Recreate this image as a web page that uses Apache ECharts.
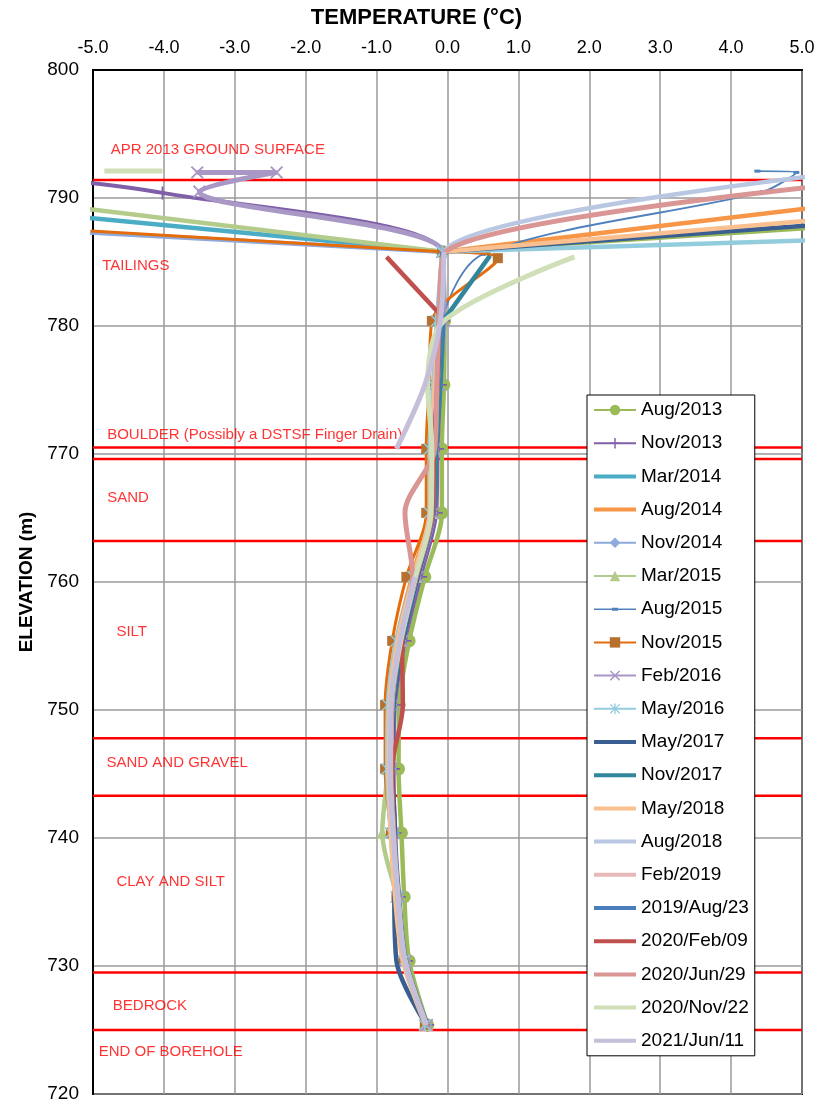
<!DOCTYPE html>
<html>
<head>
<meta charset="utf-8">
<script src="https://cdn.jsdelivr.net/npm/echarts@6/dist/echarts.min.js"></script>
<style>
html,body{margin:0;padding:0;background:#fff;}
#chart{width:837px;height:1104px;}
</style>
</head>
<body>
<div id="chart"></div>
<script>
// ---------- DATA (temperature °C, elevation m) ----------
const X_MIN = -5, X_MAX = 5, Y_MIN = 720, Y_MAX = 800;
const seriesNames = ['Aug/2013','Nov/2013','Mar/2014','Aug/2014','Nov/2014','Mar/2015','Aug/2015','Nov/2015','Feb/2016','May/2016','May/2017','Nov/2017','May/2018','Aug/2018','Feb/2019','2019/Aug/23','2020/Feb/09','2020/Jun/29','2020/Nov/22','2021/Jun/11'];

const aug2013 = [[8,788.7],[-0.07,785.8],[-0.04,780.4],[-0.05,775.4],[-0.08,770.4],[-0.08,765.4],[-0.32,760.4],[-0.54,755.4],[-0.68,750.4],[-0.69,745.4],[-0.65,740.4],[-0.61,735.4],[-0.54,730.4],[-0.28,725.4]];
const nov2013 = [[-6.5,792.0],[-4.02,790.4],[-0.08,785.8],[-0.06,780.4],[-0.1,775.4],[-0.14,770.4],[-0.16,765.4],[-0.38,760.4],[-0.6,755.4],[-0.74,750.4],[-0.76,745.4],[-0.74,740.4],[-0.68,735.4],[-0.58,730.4],[-0.28,725.4]];
const mar2014 = [[-8,790.0],[-0.08,785.8],[-0.08,780.4],[-0.13,775.4],[-0.18,770.4],[-0.2,765.4],[-0.42,760.4],[-0.65,755.4],[-0.78,750.4],[-0.8,745.4],[-0.77,740.4],[-0.7,735.4],[-0.6,730.4],[-0.3,725.4]];
const aug2014 = [[8,791.1],[-0.06,785.8],[-0.14,780.4],[-0.2,775.4],[-0.24,770.4],[-0.26,765.4],[-0.5,760.4],[-0.72,755.4],[-0.83,750.4],[-0.83,745.4],[-0.79,740.4],[-0.72,735.4],[-0.62,730.4],[-0.3,725.4]];
const nov2014 = [[-8,788.2],[-0.08,785.8],[-0.1,780.4],[-0.15,775.4],[-0.2,770.4],[-0.22,765.4],[-0.45,760.4],[-0.66,755.4],[-0.79,750.4],[-0.8,745.4],[-0.76,740.4],[-0.7,735.4],[-0.6,730.4],[-0.3,725.4]];
const mar2015 = [[-8,791.1],[-0.08,785.8],[-0.1,780.4],[-0.14,775.4],[-0.2,770.4],[-0.22,765.4],[-0.44,760.4],[-0.66,755.4],[-0.8,750.4],[-0.84,745.4],[-0.92,740.4],[-0.72,735.4],[-0.6,730.4],[-0.3,725.4]];
const aug2015 = [[4.37,792.1],[4.92,792.0],[4.45,790.5],[0.5,785.6],[-0.08,780.4],[-0.15,775.4],[-0.2,770.4],[-0.22,765.4],[-0.44,760.4],[-0.65,755.4],[-0.78,750.4],[-0.8,745.4],[-0.76,740.4],[-0.7,735.4],[-0.6,730.4],[-0.3,725.4]];
const nov2015 = [[-8,788.4],[-0.07,785.8],[0.71,785.3],[-0.22,780.4],[-0.26,775.4],[-0.3,770.4],[-0.3,765.4],[-0.58,760.4],[-0.78,755.4],[-0.88,750.4],[-0.88,745.4],[-0.8,740.4],[-0.72,735.4],[-0.62,730.4],[-0.32,725.4]];
const feb2016 = [[-3.53,792.0],[-2.41,792.0],[-3.5,790.5],[-0.07,785.8],[-0.05,780.4],[-0.12,775.4],[-0.18,770.4],[-0.2,765.4],[-0.42,760.4],[-0.64,755.4],[-0.77,750.4],[-0.79,745.4],[-0.76,740.4],[-0.69,735.4],[-0.59,730.4],[-0.29,725.4]];
const may2016 = [[8,787.2],[-0.07,785.8],[-0.15,780.4],[-0.2,775.4],[-0.25,770.4],[-0.25,765.4],[-0.48,760.4],[-0.72,755.4],[-0.84,750.4],[-0.85,745.4],[-0.8,740.4],[-0.72,735.4],[-0.62,730.4],[-0.32,725.4]];
const may2017 = [[8,789.0],[-0.07,785.8],[-0.08,780.4],[-0.12,775.4],[-0.17,770.4],[-0.2,765.4],[-0.42,760.4],[-0.63,755.4],[-0.76,750.4],[-0.78,745.4],[-0.74,740.4],[-0.75,735.4],[-0.72,730.4],[-0.3,725.4]];
const nov2017 = [[0.6,785.5],[-0.06,780.4],[-0.1,775.4],[-0.16,770.4],[-0.2,765.4],[-0.43,760.4],[-0.64,755.4],[-0.77,750.4],[-0.79,745.4],[-0.75,740.4],[-0.69,735.4],[-0.59,730.4],[-0.29,725.4]];
const may2018 = [[8,789.6],[-0.06,785.8],[-0.12,780.4],[-0.18,775.4],[-0.23,770.4],[-0.25,765.4],[-0.48,760.4],[-0.7,755.4],[-0.82,750.4],[-0.83,745.4],[-0.8,740.4],[-0.74,735.4],[-0.63,730.4],[-0.31,725.4]];
const aug2018 = [[5.6,792.0],[-0.05,785.8],[-0.1,780.4],[-0.14,775.4],[-0.19,770.4],[-0.21,765.4],[-0.44,760.4],[-0.66,755.4],[-0.79,750.4],[-0.8,745.4],[-0.76,740.4],[-0.7,735.4],[-0.6,730.4],[-0.3,725.4]];
const feb2019 = [[-0.06,785.8],[-0.12,780.4],[-0.16,775.4],[-0.2,770.4],[-0.24,765.4],[-0.44,760.4],[-0.66,755.4],[-0.78,750.4],[-0.79,745.4],[-0.76,740.4],[-0.7,735.4],[-0.6,730.4],[-0.3,725.4]];
const aug2019 = [[-0.07,785.8],[-0.09,780.4],[-0.14,775.4],[-0.19,770.4],[-0.21,765.4],[-0.44,760.4],[-0.66,755.4],[-0.79,750.4],[-0.8,745.4],[-0.76,740.4],[-0.7,735.4],[-0.6,730.4],[-0.3,725.4]];
const feb2020 = [[-0.86,785.4],[-0.12,781.0],[-0.14,775.4],[-0.19,770.4],[-0.21,765.4],[-0.44,760.4],[-0.64,755.4],[-0.63,750.4],[-0.78,745.4],[-0.76,740.4],[-0.7,735.4],[-0.6,730.4],[-0.3,725.4]];
const jun2020 = [[8,792.4],[-0.03,785.8],[-0.12,780.4],[-0.15,775.4],[-0.18,770.4],[-0.6,765.4],[-0.49,760.4],[-0.66,755.4],[-0.79,750.4],[-0.8,745.4],[-0.76,740.4],[-0.7,735.4],[-0.6,730.4],[-0.3,725.4]];
const nov2020 = [[-4.84,792.1],[-4.02,792.1],['-','-'],[1.79,785.4],[-0.05,780.4],[-0.28,775.4],[-0.22,770.4],[-0.23,765.4],[-0.45,760.4],[-0.66,755.4],[-0.8,750.4],[-0.81,745.4],[-0.77,740.4],[-0.7,735.4],[-0.6,730.4],[-0.3,725.4]];
const jun2021 = [[-0.05,785.8],[-0.1,780.4],[-0.32,775.4],[-0.72,770.4],['-','-'],[-0.46,760.4],[-0.67,755.4],[-0.8,750.4],[-0.81,745.4],[-0.77,740.4],[-0.7,735.4],[-0.6,730.4],[-0.3,725.4]];

const layerBoundaries = [791.4, 770.5, 769.6, 763.2, 747.8, 743.3, 729.5, 725.0];
const layerLabels = [
  ['APR 2013 GROUND SURFACE', -4.75, 793.8],
  ['TAILINGS', -4.87, 784.7],
  ['BOULDER (Possibly a DSTSF Finger Drain)', -4.8, 771.5],
  ['SAND', -4.8, 766.6],
  ['SILT', -4.67, 756.1],
  ['SAND AND GRAVEL', -4.81, 745.9],
  ['CLAY AND SILT', -4.67, 736.6],
  ['BEDROCK', -4.72, 726.9],
  ['END OF BOREHOLE', -4.92, 723.3]
];

// ---------- STYLES ----------
const PLUS = 'path://M4.3,0H5.7V4.3H10V5.7H5.7V10H4.3V5.7H0V4.3H4.3Z';
const CROSS = 'path://M1,0L5,4L9,0L10,1L6,5L10,9L9,10L5,6L1,10L0,9L4,5L0,1Z';
const STAR = 'path://M4.4,0H5.6V10H4.4Z M1,0.3L5,4.3L9,0.3L9.8,1.1L5.8,5L9.8,8.9L9,9.7L5,5.7L1,9.7L0.2,8.9L4.2,5L0.2,1.1Z';
const LINE_ICON = 'path://M0,0H42V0.01H0Z M0,4.5H42V8.5H0Z M0,12.99H42V13H0Z';
const THIN_ICON = 'path://M0,0H42V0.01H0Z M0,5.8H42V7.2H0Z M18,5H24V8H18Z M0,12.99H42V13H0Z';
// st: straight first segment (surface reading to first buried reading)
const styleList = [
  {d: aug2013, c: '#9BBB59', w: 4.5, s: 'circle', ss: 13, st: true},
  {d: nov2013, c: '#7F60A8', w: 4, s: PLUS, ss: 13},
  {d: mar2014, c: '#4BACC6', w: 4.5, st: true},
  {d: aug2014, c: '#F79646', w: 4.5, st: true},
  {d: nov2014, c: '#8EA9DB', w: 4.5, s: 'diamond', ss: 12, st: true},
  {d: mar2015, c: '#B3CB8B', w: 4.5, s: 'triangle', ss: 12, st: true},
  {d: aug2015, c: '#4F81BD', w: 1.8, s: 'rect', ss: [6,3], icon: THIN_ICON},
  {d: nov2015, c: '#E46C0A', w: 3, s: 'rect', ss: 10, sc: '#B7702E', st: true},
  {d: feb2016, c: '#A997C6', w: 5, s: CROSS, ss: 13},
  {d: may2016, c: '#93CDDD', w: 4.5, s: STAR, ss: 13, st: true},
  {d: may2017, c: '#3A5E91', w: 4.5, st: true},
  {d: nov2017, c: '#31859C', w: 4.5, st: true},
  {d: may2018, c: '#FAC090', w: 4.5, st: true},
  {d: aug2018, c: '#B9C7E2', w: 4.5},
  {d: feb2019, c: '#E6B9B8', w: 4.5},
  {d: aug2019, c: '#4A7EBB', w: 4.5},
  {d: feb2020, c: '#C0504D', w: 4.5, st: true},
  {d: jun2020, c: '#D99694', w: 5},
  {d: nov2020, c: '#D0DFB8', w: 5},
  {d: jun2021, c: '#C6BFD9', w: 5}
];

const FONT = "'Liberation Sans', Arial, sans-serif";

const series = [];
layerBoundaries.forEach(function (e) {
  series.push({
    type: 'line', silent: true, z: 1, symbol: 'none',
    data: [[X_MIN, e], [X_MAX, e]],
    lineStyle: {color: '#FF0000', width: 2.5}
  });
});
series.push({
  type: 'scatter', silent: true, z: 3, symbolSize: 0,
  itemStyle: {color: 'rgba(0,0,0,0)'},
  data: layerLabels.map(function (l) { return {name: l[0], value: [l[1], l[2]]}; }),
  label: {show: true, position: 'right', distance: 0, color: '#FF0000', fontSize: 15, fontFamily: FONT,
    formatter: '{b}'}
});
function lineSeries(name, data, st, smooth, z) {
  return {
    name: name, type: 'line', z: z,
    data: data, smooth: smooth, connectNulls: false, clip: true,
    symbol: st.s || 'none', symbolSize: st.ss || 0, showSymbol: !!st.s,
    lineStyle: {color: st.c, width: st.w},
    itemStyle: {color: st.sc || st.c, borderWidth: 0},
    emphasis: {disabled: true}
  };
}
styleList.forEach(function (st, i) {
  const z = 4 + i * 0.01;
  if (st.st) {
    series.push(lineSeries(seriesNames[i], st.d.slice(0, 2), st, false, z));
    series.push(lineSeries(seriesNames[i], st.d.slice(1), st, 0.3, z));
  } else {
    series.push(lineSeries(seriesNames[i], st.d, st, 0.3, z));
  }
});

const legendData = seriesNames.map(function (n, i) {
  const st = styleList[i];
  if (st.icon) return {name: n, icon: st.icon, itemStyle: {color: st.c}};
  if (!st.s) return {name: n, icon: LINE_ICON, itemStyle: {color: st.c}};
  return {name: n};
});

const chart = echarts.init(document.getElementById('chart'), null, {renderer: 'canvas'});
chart.setOption({
  animation: false,
  backgroundColor: '#fff',
  grid: {left: 93, top: 70, width: 709, height: 1024, show: true, borderColor: '#000', borderWidth: 2, backgroundColor: 'transparent'},
  xAxis: {
    type: 'value', position: 'top', min: X_MIN, max: X_MAX, interval: 1,
    name: 'TEMPERATURE (°C)', nameLocation: 'middle', nameGap: 41,
    nameTextStyle: {fontSize: 22, fontWeight: 'bold', color: '#000', fontFamily: FONT, padding: [0, 62, 0, 0]},
    axisLine: {show: true, onZero: false, lineStyle: {color: '#000', width: 2}},
    axisTick: {show: false},
    axisLabel: {fontSize: 18, color: '#000', margin: 13, fontFamily: FONT,
      formatter: function (v) { return v.toFixed(1); }},
    splitLine: {show: true, lineStyle: {color: '#9a9a9a', width: 1.5}}
  },
  yAxis: {
    type: 'value', min: Y_MIN, max: Y_MAX, interval: 10,
    name: 'ELEVATION (m)', nameLocation: 'middle', nameGap: 50, nameRotate: 90,
    nameTextStyle: {fontSize: 19, fontWeight: 'bold', color: '#000', fontFamily: FONT},
    axisLine: {show: true, onZero: false, lineStyle: {color: '#000', width: 2}},
    axisTick: {show: false},
    axisLabel: {fontSize: 19, color: '#000', margin: 14, fontFamily: FONT},
    splitLine: {show: true, lineStyle: {color: '#9a9a9a', width: 1.5}}
  },
  legend: {
    data: legendData, orient: 'vertical', left: 587, top: 395,
    itemWidth: 42, itemHeight: 13, itemGap: 13.2,
    padding: [5, 6, 5, 6],
    backgroundColor: '#fff', borderColor: '#000', borderWidth: 1,
    textStyle: {fontSize: 19, color: '#000', fontFamily: FONT, lineHeight: 20},
    selectedMode: false
  },
  series: series
});
</script>
</body>
</html>
